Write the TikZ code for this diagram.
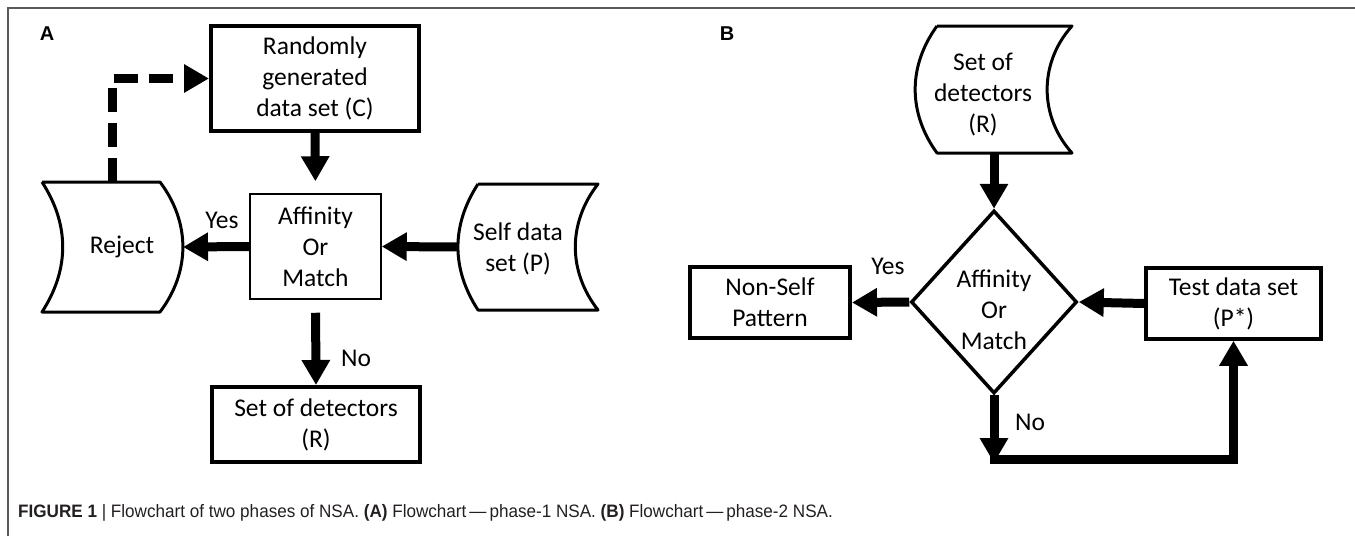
\documentclass[tikz,border=0pt]{standalone}
\usepackage{fontspec}
\setmainfont{Carlito}
\newfontfamily\capfont[FakeStretch=0.95]{Liberation Sans}
\newfontfamily\panelfont{Liberation Sans}
\usetikzlibrary{arrows.meta,shapes.geometric,calc}
\definecolor{framegray}{HTML}{5A5A5A}
\definecolor{captext}{HTML}{231F20}
\begin{document}
\begin{tikzpicture}[x=1pt,y=-1pt,
  lbl/.style={font=\fontsize{25.5}{31}\selectfont, align=center},
  procbox/.style={draw, line width=4pt, inner sep=0pt, lbl},
  storeline/.style={draw, line width=3pt, line join=round},
  flow/.style={line width=9pt, -{Triangle[length=25pt,width=27pt]}},
  dashflow/.style={flow, dash pattern=on 24pt off 11pt},
  panel/.style={font=\panelfont\bfseries\fontsize{20}{24}\selectfont},
  note/.style={font=\fontsize{25.5}{30}\selectfont}]
\useasboundingbox (0,0) rectangle (1355,536);

% frame
\draw[framegray, line width=2pt] (8,536) -- (8,8) -- (1355,8);

% panel letters
\node[panel] (pa) at (47,34) {A};
\node[panel] (pb) at (727,34) {B};

% ---------------- phase 1 ----------------
\node[procbox, minimum width=208pt, minimum height=105pt] (rand) at (315,78.5)
  {Randomly\\generated\\data set (C)};
\node[procbox, line width=1.5pt, minimum width=131pt, minimum height=105pt] (aff) at (315.5,246.5)
  {Affinity\\Or\\Match};
\node[procbox, minimum width=208pt, minimum height=75pt] (detA) at (316,424.5)
  {Set of detectors\\(R)};

% reject store
\draw[storeline] (42,182) -- (160,182) to[bend left=37] (160,312) -- (42,312) to[bend right=33] (42,182);
\node[lbl] (rej) at (122,247) {Reject};
\coordinate (rejE) at (183,247);
\coordinate (rejN) at (112,182);

% self data store
\draw[storeline] (478,184) -- (598,184) to[bend right=38] (598,310) -- (478,310) to[bend left=33] (478,184);
\node[lbl] (self) at (518,249) {Self data\\set (P)};
\coordinate (selfW) at (458,247);

\draw[flow, shorten >=12pt] (rand.south) -- (aff.north);
\draw[flow] (aff.west) -- (rejE);
\draw[flow] (selfW) -- (aff.east);
\draw[flow, shorten <=13pt] (aff.south) -- (detA.north);
\draw[dashflow] (rejN) |- (rand.west);

\node[note] (yesA) at (222,220) {Yes};
\node[note] (noA) at (356,358) {No};

% ---------------- phase 2 ----------------
\draw[storeline] (937,26) -- (1072,26) to[bend right=42] (1072,153) -- (937,153) to[bend left=36] (937,26);
\node[lbl] (detB) at (983,95) {Set of\\detectors\\(R)};
\coordinate (detBS) at (994,153);

\node[draw, diamond, line width=3.5pt, minimum width=166pt, minimum height=183pt, inner sep=0pt,
  label={[lbl, yshift=-8pt]center:Affinity\\Or\\Match}] (dia) at (994,302) {};
\node[procbox, minimum width=160pt, minimum height=71pt] (ns) at (770,302.5)
  {Non-Self\\Pattern};
\node[procbox, line width=3.5pt, minimum width=175pt, minimum height=71pt] (test) at (1233.5,303.5)
  {Test data set\\(P*)};

\coordinate (noEnd) at (994,463);
\coordinate (turn) at (990,459.5);

\draw[flow] (detBS) -- (dia.north);
\draw[flow] (dia.west) -- (ns.east);
\draw[flow] (test.west) -- (dia.east);
\draw[flow] (dia.south) -- (noEnd);
\draw[flow] (turn) -| (test.south);

\node[note] (yesB) at (888,266) {Yes};
\node[note] (noB) at (1030,422) {No};

% caption
\node[anchor=base west, inner sep=0pt, text=captext, font=\capfont\fontsize{18}{21}\selectfont] (cap) at (18,517)
  {\textbf{FIGURE 1} | Flowchart of two phases of NSA. \textbf{(A)} Flowchart\,—\,phase-1 NSA. \textbf{(B)} Flowchart\,—\,phase-2 NSA.};
\end{tikzpicture}
\end{document}
